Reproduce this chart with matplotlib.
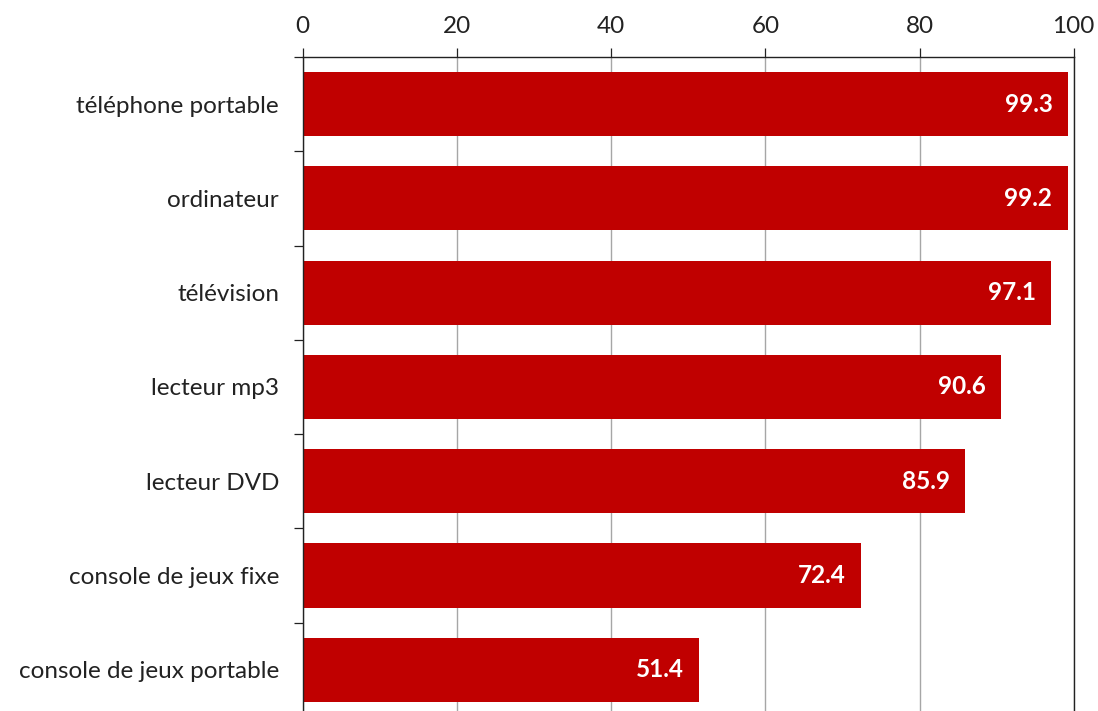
import matplotlib.pyplot as plt
import numpy as np

plt.rcParams['font.family'] = ['Lato', 'DejaVu Sans']

categories = ['téléphone portable', 'ordinateur', 'télévision', 'lecteur mp3',
              'lecteur DVD', 'console de jeux fixe', 'console de jeux portable']
values = [99.3, 99.2, 97.1, 90.6, 85.9, 72.4, 51.4]
x_ticks = [0, 20, 40, 60, 80, 100]

bar_color = '#C00000'
text_color = '#222222'

fig = plt.figure(figsize=(10.98, 7.11), dpi=100)
ax = fig.add_axes([0.2757, -0.0084, 0.9779 - 0.2757, 0.9198 + 0.0084])

y = np.arange(len(categories))
ax.barh(y, values, height=0.68, color=bar_color, zorder=2)

# value labels inside the bar ends
for yi, v in zip(y, values):
    ax.annotate(f'{v:.1f}', xy=(v, yi), xytext=(-11, 0), textcoords='offset points',
                ha='right', va='center', color='white', fontsize=17.5, fontweight='bold')

ax.set_xlim(0, 100)
ax.set_ylim(len(categories) - 0.5, -0.5)
ax.xaxis.tick_top()
ax.set_xticks(x_ticks)
ax.tick_params(axis='x', which='major', direction='out', length=6.5, width=0.9,
               pad=8, labelsize=17.5, colors=text_color)
ax.grid(True, axis='x', color='#a6a6a6', linewidth=1, zorder=0)

# category labels centred, tick marks at the boundaries
ax.set_yticks(y)
ax.set_yticklabels(categories)
ax.set_yticks(np.arange(len(categories) + 1) - 0.5, minor=True)
ax.tick_params(axis='y', which='major', length=0, pad=17, labelsize=17.5, colors=text_color)
ax.tick_params(axis='y', which='minor', direction='out', length=6.5, width=0.9, color=text_color)

for side in ['top', 'left', 'right']:
    ax.spines[side].set_color(text_color)
    ax.spines[side].set_linewidth(1)
ax.spines['bottom'].set_visible(False)

fig.savefig('out.png', dpi=100)
